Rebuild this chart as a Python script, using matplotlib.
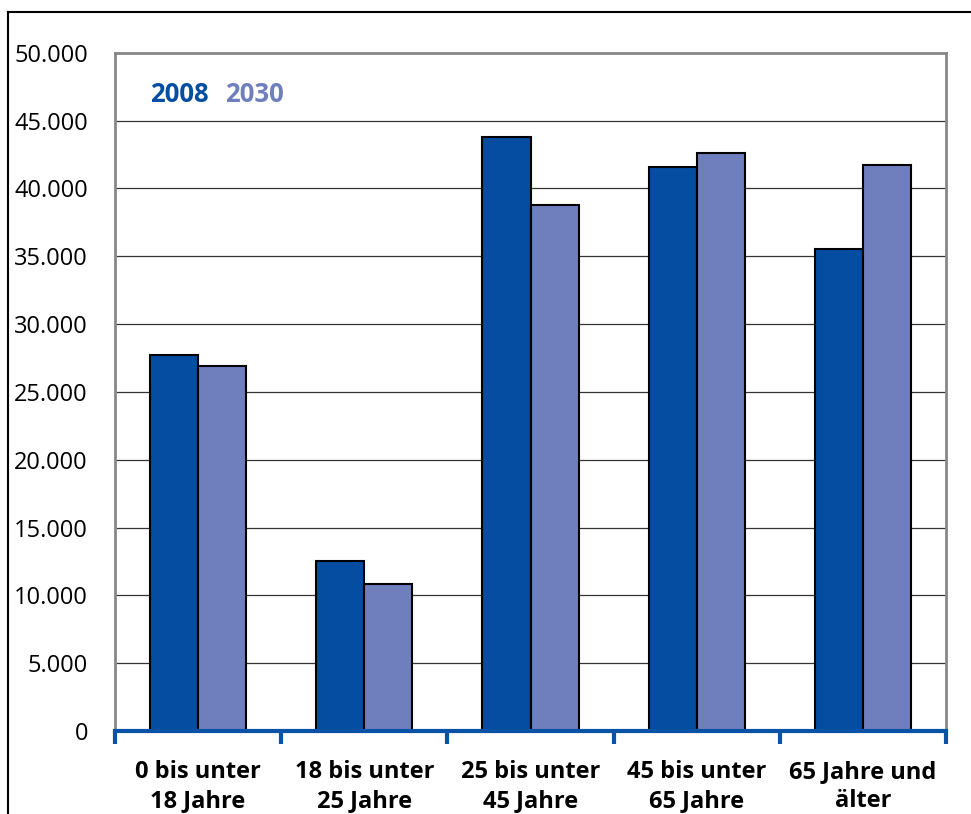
"""
Grouped bar chart: population by age group, 2008 vs 2030.
"""
import matplotlib
matplotlib.use('Agg')
import matplotlib.pyplot as plt
from matplotlib.lines import Line2D
from matplotlib.ticker import FuncFormatter
import numpy as np

categories = ['0 bis unter\n18 Jahre', '18 bis unter\n25 Jahre',
              '25 bis unter\n45 Jahre', '45 bis unter\n65 Jahre',
              '65 Jahre und\nälter']
values_2008 = [27700, 12500, 43800, 41600, 35500]
values_2030 = [26900, 10800, 38800, 42600, 41700]
series_labels = ['2008', '2030']
y_ticks = [0, 5000, 10000, 15000, 20000, 25000, 30000, 35000, 40000,
           45000, 50000]

color_2008 = '#044DA1'
color_2030 = '#6F7FBE'
axis_blue = '#0A52A5'

plt.rcParams['font.family'] = ['Open Sans', 'DejaVu Sans']

fig = plt.figure(figsize=(9.71, 8.14), dpi=100)
ax = fig.add_axes([0.1184, 0.1020, 0.8559, 0.8331])

x = np.arange(len(categories))
width = 0.29
ax.bar(x - width / 2, values_2008, width, color=color_2008,
       edgecolor='black', linewidth=1.5, zorder=3)
ax.bar(x + width / 2, values_2030, width, color=color_2030,
       edgecolor='black', linewidth=1.5, zorder=3)

ax.set_xlim(-0.5, len(categories) - 0.5)
ax.set_ylim(0, 50000)
ax.set_yticks(y_ticks)
ax.yaxis.set_major_formatter(
    FuncFormatter(lambda v, pos: f'{int(v):,}'.replace(',', '.')))
ax.tick_params(axis='y', length=0, pad=19.5, labelsize=17)
ax.grid(axis='y', color='#333333', linewidth=0.9, zorder=0)

# category labels, ticks at group boundaries
ax.set_xticks(x)
ax.set_xticklabels(categories, fontweight='bold', fontsize=17,
                   linespacing=1.25)
ax.tick_params(axis='x', length=0, pad=21)
ax.set_xticks(np.arange(-0.5, len(categories)), minor=True)
ax.tick_params(axis='x', which='minor', length=9, width=3,
               color=axis_blue, direction='out')

for side in ['left', 'top', 'right']:
    ax.spines[side].set_color('#888888')
    ax.spines[side].set_linewidth(2)
ax.spines['bottom'].set_color(axis_blue)
ax.spines['bottom'].set_linewidth(3)
ax.spines['bottom'].set_zorder(4)

# legend as coloured text
ax.text(0.042, 0.938, series_labels[0], transform=ax.transAxes,
        color=color_2008, fontsize=18.5, fontweight='bold', va='center')
ax.text(0.132, 0.938, series_labels[1], transform=ax.transAxes,
        color=color_2030, fontsize=18.5, fontweight='bold', va='center')

# outer frame (left and top edge)
fig.add_artist(Line2D([8 / 971, 8 / 971], [0, 1 - 12 / 814],
                      color='black', linewidth=1.5))
fig.add_artist(Line2D([8 / 971, 1], [1 - 12 / 814, 1 - 12 / 814],
                      color='black', linewidth=1.5))

fig.savefig('out.png', dpi=100)
